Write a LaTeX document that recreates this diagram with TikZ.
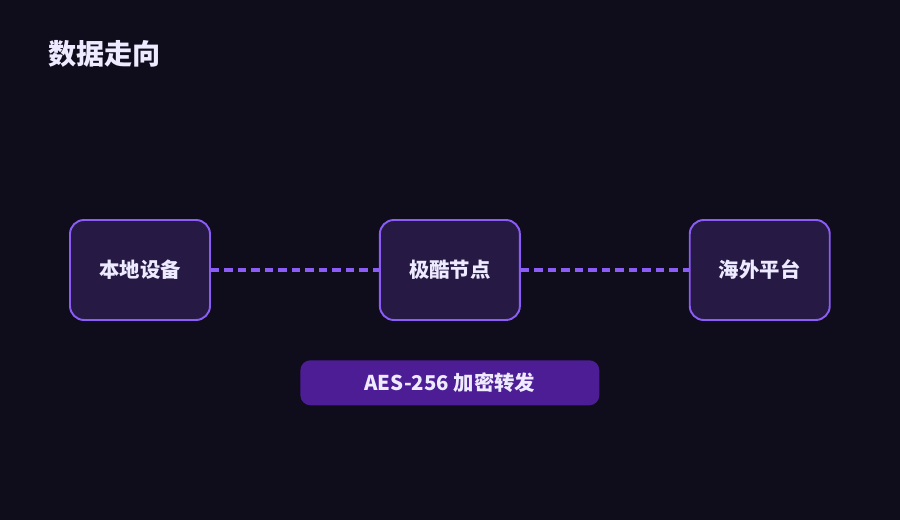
\documentclass[tikz,border=0pt]{standalone}
\usepackage{fontspec}
\setmainfont{Noto Sans CJK SC}
\usetikzlibrary{positioning}
\definecolor{bgdark}{HTML}{0F0C1C}
\definecolor{boxfill}{HTML}{261A45}
\definecolor{boxline}{HTML}{8B5CF6}
\definecolor{pillfill}{HTML}{4C1D95}
\definecolor{lighttext}{HTML}{EEEAFF}
\tikzset{station/.style={draw=boxline,fill=boxfill,line width=1.1pt,rounded corners=0.28cm,
    minimum width=2.8cm,minimum height=2cm,text=lighttext,font=\fontsize{11.6}{13}\selectfont\bfseries},
  link/.style={boxline,line width=2pt,dash pattern=on 0.17cm off 0.1cm}}

\begin{document}
\begin{tikzpicture}[x=0.02cm,y=-0.02cm]
% background and page size
\fill[bgdark] (0,0) rectangle (900,520);
\node[anchor=west,text=lighttext,font=\fontsize{16}{18}\selectfont\bfseries,inner sep=0pt] (title) at (48,54) {数据走向};
% --- three stations
\node[station] (local) at (140,270) {本地设备};
\node[station,right=3.36cm of local] (relay) {极酷节点};
\node[station,right=3.36cm of relay] (abroad) {海外平台};
\draw[link] (local.east) -- (relay.west);
\draw[link] (relay.east) -- (abroad.west);
% --- encryption tag
\node[fill=pillfill,rounded corners=0.2cm,minimum width=5.98cm,minimum height=0.9cm,
  text=lighttext,font=\fontsize{11.6}{13}\selectfont\bfseries,below=0.78cm of relay] (tag) {AES-256 加密转发};
\end{tikzpicture}
\end{document}
